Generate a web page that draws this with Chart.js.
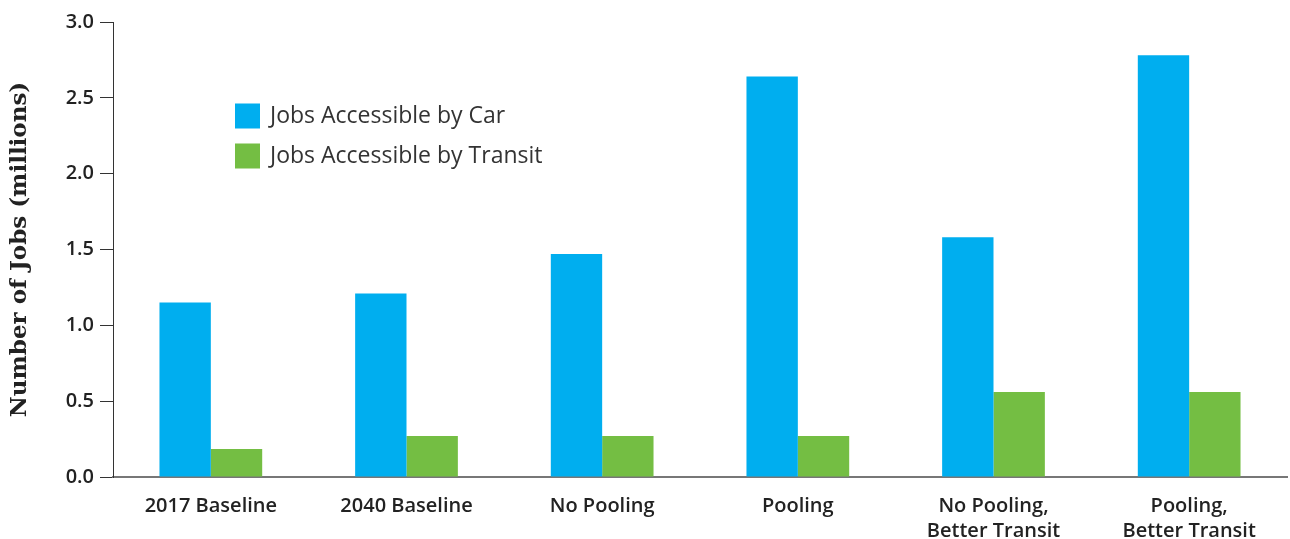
<!DOCTYPE html>
<html>
<head>
<meta charset="utf-8">
<script src="https://cdn.jsdelivr.net/npm/chart.js@4.4.0/dist/chart.umd.min.js"></script>
<style>
  html, body { margin: 0; padding: 0; background: #fff; }
  #wrap { width: 1290px; height: 539px; position: relative; }
</style>
</head>
<body>
<div id="wrap"><canvas id="jobsChart"></canvas></div>
<script>
const categories = [
  '2017 Baseline',
  '2040 Baseline',
  'No Pooling',
  'Pooling',
  ['No Pooling,', 'Better Transit'],
  ['Pooling,', 'Better Transit']
];
const carJobs = [1.15, 1.21, 1.47, 2.64, 1.58, 2.78];
const transitJobs = [0.185, 0.27, 0.27, 0.27, 0.56, 0.56];
const seriesNames = ['Jobs Accessible by Car', 'Jobs Accessible by Transit'];
const yTitle = 'Number of Jobs (millions)';

const carColor = '#00aeef';
const transitColor = '#74be43';
const labelFont = '"Open Sans", "Noto Sans", sans-serif';

// legend sits inside the plot, upper left
const insideLegend = {
  id: 'insideLegend',
  afterDraw(chart) {
    const { ctx } = chart;
    ctx.save();
    ctx.font = '23px ' + labelFont;
    ctx.textBaseline = 'middle';
    chart.data.datasets.forEach((ds, i) => {
      const y = 116 + i * 40;
      ctx.fillStyle = ds.backgroundColor;
      ctx.fillRect(235, y - 12.5, 25, 25);
      ctx.fillStyle = '#333';
      ctx.fillText(ds.label, 270, y);
    });
    ctx.restore();
  }
};

new Chart(document.getElementById('jobsChart'), {
  type: 'bar',
  data: {
    labels: categories,
    datasets: [
      { label: seriesNames[0], data: carJobs, backgroundColor: carColor },
      { label: seriesNames[1], data: transitJobs, backgroundColor: transitColor }
    ]
  },
  options: {
    responsive: true,
    maintainAspectRatio: false,
    animation: false,
    layout: { padding: { top: 22, right: 3, left: 0, bottom: 0 } },
    datasets: {
      bar: { categoryPercentage: 0.525, barPercentage: 1, borderWidth: 0 }
    },
    plugins: {
      legend: { display: false },
      tooltip: { enabled: false }
    },
    scales: {
      x: {
        grid: { display: false, drawTicks: false },
        border: { color: '#777', width: 2 },
        ticks: {
          color: '#222',
          padding: 17,
          maxRotation: 0,
          font: { family: labelFont, size: 20, weight: '600', lineHeight: 1.25 }
        },
        afterFit(axis) { axis.height = 62; }
      },
      y: {
        min: 0,
        max: 3,
        grid: { drawOnChartArea: false, drawTicks: true, tickLength: 13, color: '#333' },
        border: { color: '#333', width: 1 },
        ticks: {
          stepSize: 0.5,
          color: '#222',
          padding: 6,
          font: { family: labelFont, size: 20, weight: '600' },
          callback: v => v.toFixed(1)
        },
        title: {
          display: true,
          text: yTitle,
          color: '#222',
          padding: { top: 6, bottom: 0 },
          font: { family: '"DejaVu Serif", "Liberation Serif", serif', size: 23, weight: 'bold' }
        },
        afterFit(axis) { axis.width = 113; }
      }
    }
  },
  plugins: [insideLegend]
});
</script>
</body>
</html>
